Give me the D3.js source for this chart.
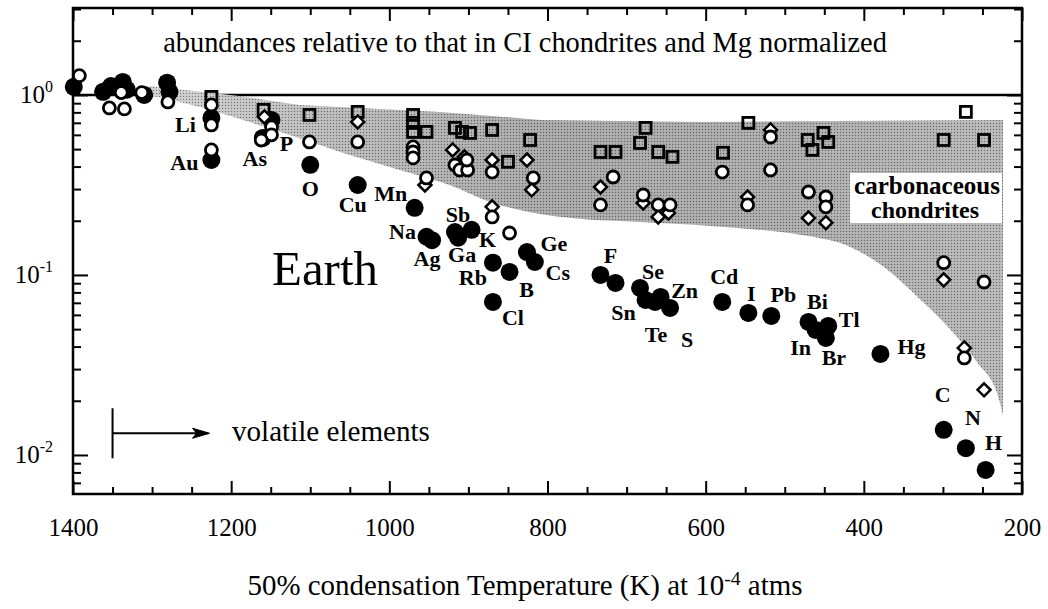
<!DOCTYPE html>
<html>
<head>
<meta charset="utf-8">
<script src="https://cdn.jsdelivr.net/npm/d3@7"></script>
<style>
  body { margin: 0; background: #fff; }
</style>
</head>
<body>
<div id="chart"></div>
<script>
// Earth (filled circles): element, 50% condensation T (K), abundance
const earth = [
  ["", 1399, 1.11], ["", 1362, 1.04], ["", 1352, 1.12], ["", 1337, 1.18], ["", 1332, 1.07],
  ["", 1310, 1.0], ["", 1281, 1.17], ["", 1278, 1.04],
  ["Li", 1225, 0.745], ["Au", 1225, 0.435], ["P", 1149, 0.726], ["As", 1160, 0.577],
  ["O", 1100, 0.409], ["Cu", 1040, 0.316], ["Mn", 968, 0.236], ["Na", 953, 0.163],
  ["Ag", 946, 0.156], ["Sb", 917, 0.173], ["Ga", 913, 0.161], ["K", 896, 0.178],
  ["Ge", 826, 0.134], ["Cs", 816, 0.118], ["Rb", 869, 0.117], ["B", 848, 0.104],
  ["Cl", 869, 0.0708], ["F", 733, 0.1], ["", 714, 0.0903], ["Se", 683, 0.0847],
  ["Sn", 676, 0.0726], ["Te", 664, 0.0708], ["Zn", 657, 0.0755], ["S", 645, 0.0656],
  ["Cd", 579, 0.0708], ["I", 546, 0.0615], ["Pb", 517, 0.0592], ["Bi", 470, 0.0548],
  ["In", 461, 0.0495], ["Tl", 445, 0.0521], ["Br", 448, 0.0447], ["Hg", 379, 0.0364],
  ["C", 299, 0.0138], ["N", 271, 0.0109], ["H", 246, 0.00826]
];

// carbonaceous chondrites, three groups
const chondCircles = [
  [1392, 1.28], [1354, 0.847], [1335, 0.836], [1339, 1.03], [1313, 1.03], [1280, 0.914],
  [1225, 0.88], [1225, 0.681], [1225, 0.495], [1149, 0.664], [1149, 0.6], [1162, 0.562],
  [1101, 0.548], [1040, 0.548], [970, 0.514], [970, 0.482], [970, 0.447], [953, 0.346],
  [917, 0.408], [911, 0.383], [901, 0.383], [902, 0.435], [870, 0.373], [870, 0.21],
  [848, 0.171], [818, 0.346], [717, 0.35], [733, 0.245], [679, 0.278], [660, 0.245],
  [645, 0.245], [579, 0.373], [518, 0.584], [518, 0.383], [547, 0.245], [470, 0.289],
  [448, 0.271], [448, 0.239], [299, 0.117], [273, 0.0346], [248, 0.0914]
];
const chondSquares = [
  [1225, 0.975], [1159, 0.826], [1101, 0.774], [1040, 0.805], [970, 0.774], [970, 0.699],
  [970, 0.623], [953, 0.623], [917, 0.656], [908, 0.623], [898, 0.615], [870, 0.639],
  [850, 0.425], [822, 0.562], [733, 0.482], [714, 0.482], [676, 0.656], [683, 0.541],
  [660, 0.482], [642, 0.453], [578, 0.477], [546, 0.699], [471, 0.562], [465, 0.495],
  [451, 0.615], [445, 0.548], [299, 0.562], [271, 0.805], [248, 0.562]
];
const chondDiamonds = [
  [1158, 0.755], [1040, 0.708], [955, 0.316], [920, 0.495], [905, 0.453], [870, 0.435],
  [870, 0.239], [826, 0.435], [820, 0.297], [733, 0.308], [679, 0.251], [660, 0.21],
  [647, 0.221], [547, 0.271], [518, 0.639], [470, 0.207], [448, 0.195], [299, 0.0939],
  [273, 0.0393], [248, 0.023]
];

// shaded carbonaceous chondrite field
const bandUpper = [[1304, 1.12], [1190, 0.987], [1114, 0.88], [936, 0.805], [809, 0.726], [607, 0.708], [224, 0.726]];
const bandLower = [[224, 0.0167], [230, 0.021], [256, 0.0324], [290, 0.0495], [332, 0.0755], [375, 0.111],
  [417, 0.143], [480, 0.167], [556, 0.182], [683, 0.197], [760, 0.205], [820, 0.222], [870, 0.252],
  [924, 0.316], [987, 0.383], [1050, 0.464], [1114, 0.577], [1177, 0.708], [1240, 0.858], [1304, 1.0]];

const xMajor = [1400, 1200, 1000, 800, 600, 400, 200];
const xMinor = d3.range(1350, 200, -50).filter(d => d % 200 !== 0);
const yMajor = [1, 0.1, 0.01];
const yMajorExp = ["0", "-1", "-2"];

// label nudges (px) relative to each filled dot
const labelOffset = {
  Li: [-26, 7], Au: [-27, 2], As: [-8, 21], P: [15, 24], O: [0, 24], Cu: [-5, 20],
  Mn: [-24, -14], Na: [-24, -5], Ag: [-5, 18], Ga: [4, 17], Sb: [3, -18], K: [16, 10],
  Ge: [27, -9], Cs: [23, 10], Rb: [-20, 15], B: [17, 18], Cl: [20, 16], F: [10, -19],
  Se: [13, -16], Sn: [-22, 13], Zn: [24, -6], Te: [1, 33], S: [17, 32], Cd: [2, -25],
  I: [3, -19], Pb: [12, -21], Bi: [9, -20], Tl: [21, -6], In: [-15, 18], Br: [8, 20],
  Hg: [31, -7], C: [-1, -35], N: [7, -31], H: [8, -27]
};

const FONT = "Liberation Serif";
const width = 1048, height = 609;
const pLeft = 73, pRight = 1022, pTop = 8, pBottom = 494;

const x = d3.scaleLinear().domain([1400, 200]).range([pLeft, pRight]);
const y = d3.scaleLog().domain([0.00607, 3.04]).range([pBottom, pTop]);

const svg = d3.select("#chart").append("svg")
  .attr("width", width).attr("height", height)
  .attr("font-family", FONT);

// scale a text so that it spans the given width
function fit(sel, w) {
  const len = sel.node().getComputedTextLength();
  sel.attr("font-size", +sel.attr("font-size") * w / len);
  return sel;
}

// grey halftone: gradient base + dot pattern on top
const defs = svg.append("defs");
const grad = defs.append("linearGradient").attr("id", "bandGrad")
  .attr("gradientUnits", "userSpaceOnUse")
  .attr("x1", x(1304)).attr("x2", x(224)).attr("y1", 0).attr("y2", 0);
[[0, "#cfcfcf"], [0.2, "#b8b8b8"], [0.45, "#a4a4a4"], [0.75, "#a8a8a8"], [1, "#b4b4b4"]]
  .forEach(([o, c]) => grad.append("stop").attr("offset", o).attr("stop-color", c));
const pat = defs.append("pattern").attr("id", "dots")
  .attr("width", 3).attr("height", 3).attr("patternUnits", "userSpaceOnUse");
pat.append("rect").attr("width", 1).attr("height", 1).attr("fill", "#303030").attr("opacity", 0.55);
pat.append("rect").attr("x", 1.5).attr("y", 1.5).attr("width", 1).attr("height", 1)
  .attr("fill", "#ffffff").attr("opacity", 0.5);

// reference line at 1
svg.append("line")
  .attr("x1", pLeft).attr("x2", pRight)
  .attr("y1", y(1)).attr("y2", y(1))
  .attr("stroke", "#000").attr("stroke-width", 2.5);

const band = bandUpper.concat(bandLower);
const bandLine = d3.line().x(d => x(d[0])).y(d => y(d[1])).curve(d3.curveMonotoneX);
["url(#bandGrad)", "url(#dots)"].forEach(f => {
  svg.append("path")
    .attr("d", d3.line().x(d => x(d[0])).y(d => y(d[1]))(bandUpper) + "L" +
      bandLine(bandLower).slice(1) + "Z")
    .attr("fill", f)
    .attr("stroke", "none");
});

// axes, ticks pointing inwards
function styleAxis(g) {
  g.select(".domain").remove();
  g.attr("font-family", FONT);
  g.selectAll(".tick line").attr("stroke", "#000").attr("stroke-width", 2);
}
svg.append("g").attr("transform", `translate(0,${pBottom})`)
  .call(d3.axisBottom(x).tickValues(xMinor).tickSize(-7).tickFormat(""))
  .call(styleAxis);
svg.append("g").attr("transform", `translate(0,${pBottom})`)
  .call(d3.axisBottom(x).tickValues(xMajor).tickSize(-13).tickPadding(24).tickFormat(d3.format("d")))
  .call(styleAxis)
  .call(g => g.selectAll(".tick text")
    .attr("font-family", FONT).attr("font-size", 25).attr("fill", "#000"));
svg.append("g").attr("transform", `translate(0,${pTop})`)
  .call(d3.axisTop(x).tickValues(xMinor).tickSize(-7).tickFormat(""))
  .call(styleAxis);
svg.append("g").attr("transform", `translate(0,${pTop})`)
  .call(d3.axisTop(x).tickValues(xMajor).tickSize(-13).tickFormat(""))
  .call(styleAxis);

const yMinor = [];
[0.001, 0.01, 0.1, 1].forEach(p => d3.range(2, 10).forEach(k => {
  const v = +(p * k).toPrecision(3);
  if (v > y.domain()[0] && v < y.domain()[1]) yMinor.push(v);
}));
[[d3.axisLeft, pLeft], [d3.axisRight, pRight]].forEach(([ax, pos]) => {
  svg.append("g").attr("transform", `translate(${pos},0)`)
    .call(ax(y).tickValues(yMinor).tickSize(-8).tickFormat(""))
    .call(styleAxis);
  svg.append("g").attr("transform", `translate(${pos},0)`)
    .call(ax(y).tickValues(yMajor).tickSize(-15).tickFormat(""))
    .call(styleAxis);
});

// y labels with superscripts
const yl = svg.append("g");
yMajor.forEach((v, i) => {
  const t = yl.append("text")
    .attr("x", 53).attr("y", y(v) + 8)
    .attr("text-anchor", "end").attr("font-size", 25);
  t.append("tspan").text("10");
  t.append("tspan").attr("dy", -11).attr("font-size", 16).text(yMajorExp[i]);
});

// frame
svg.append("rect")
  .attr("x", pLeft).attr("y", pTop)
  .attr("width", pRight - pLeft).attr("height", pBottom - pTop)
  .attr("fill", "none").attr("stroke", "#000").attr("stroke-width", 2.5);

// Earth points
svg.append("g").selectAll("circle")
  .data(earth).join("circle")
  .attr("cx", d => x(d[1])).attr("cy", d => y(d[2]))
  .attr("r", 9).attr("fill", "#000");

// chondrites
const sq = 11;
svg.append("g").selectAll("rect")
  .data(chondSquares).join("rect")
  .attr("x", d => x(d[0]) - sq / 2).attr("y", d => y(d[1]) - sq / 2)
  .attr("width", sq).attr("height", sq)
  .attr("fill", "none").attr("stroke", "#000").attr("stroke-width", 2.8);

svg.append("g").selectAll("path")
  .data(chondDiamonds).join("path")
  .attr("transform", d => `translate(${x(d[0])},${y(d[1])})`)
  .attr("d", "M0,-6.5L6.5,0L0,6.5L-6.5,0Z")
  .attr("fill", "#fff").attr("stroke", "#000").attr("stroke-width", 2.5);

svg.append("g").selectAll("circle")
  .data(chondCircles).join("circle")
  .attr("cx", d => x(d[0])).attr("cy", d => y(d[1]))
  .attr("r", 6).attr("fill", "#fff").attr("stroke", "#000").attr("stroke-width", 2.8);

// element labels
svg.append("g").selectAll("text")
  .data(earth.filter(d => d[0] !== "")).join("text")
  .attr("x", d => x(d[1]) + labelOffset[d[0]][0])
  .attr("y", d => y(d[2]) + labelOffset[d[0]][1])
  .attr("text-anchor", "middle").attr("dominant-baseline", "central")
  .attr("font-size", 22).attr("font-weight", "bold")
  .text(d => d[0]);

// annotations
fit(svg.append("text")
  .attr("x", 525).attr("y", 52).attr("text-anchor", "middle")
  .attr("font-size", 25)
  .text("abundances relative to that in CI chondrites and Mg normalized"), 724);

fit(svg.append("text")
  .attr("x", 272).attr("y", 285)
  .attr("font-size", 48)
  .text("Earth"), 106);

svg.append("rect")
  .attr("x", 850).attr("y", 173).attr("width", 152).attr("height", 50)
  .attr("fill", "#fff");
fit(svg.append("text")
  .attr("x", 927).attr("y", 194).attr("text-anchor", "middle")
  .attr("font-size", 22).attr("font-weight", "bold")
  .text("carbonaceous"), 146);
fit(svg.append("text")
  .attr("x", 925).attr("y", 218).attr("text-anchor", "middle")
  .attr("font-size", 22).attr("font-weight", "bold")
  .text("chondrites"), 108);

// volatile arrow
const ax0 = x(1350), ay = y(0.0132);
svg.append("line").attr("x1", ax0).attr("x2", ax0).attr("y1", ay - 25).attr("y2", ay + 25)
  .attr("stroke", "#000").attr("stroke-width", 2);
svg.append("line").attr("x1", ax0).attr("x2", ax0 + 95).attr("y1", ay).attr("y2", ay)
  .attr("stroke", "#000").attr("stroke-width", 2);
svg.append("path")
  .attr("d", `M${ax0 + 97},${ay}L${ax0 + 80},${ay - 5}L${ax0 + 84},${ay}L${ax0 + 80},${ay + 5}Z`)
  .attr("fill", "#000").attr("stroke", "#000").attr("stroke-width", 1);
fit(svg.append("text")
  .attr("x", 232).attr("y", ay + 8)
  .attr("font-size", 25)
  .text("volatile elements"), 198);

// x axis title
const xt = svg.append("text")
  .attr("x", 525).attr("y", 595).attr("text-anchor", "middle")
  .attr("font-size", 25);
xt.append("tspan").text("50% condensation Temperature (K) at  10");
xt.append("tspan").attr("dy", -10).attr("font-size", 17).text("-4");
xt.append("tspan").attr("dy", 10).text(" atms");
fit(xt, 555);
xt.selectAll("tspan").filter((d, i) => i === 1).attr("font-size", +xt.attr("font-size") * 0.68);
</script>
</body>
</html>
